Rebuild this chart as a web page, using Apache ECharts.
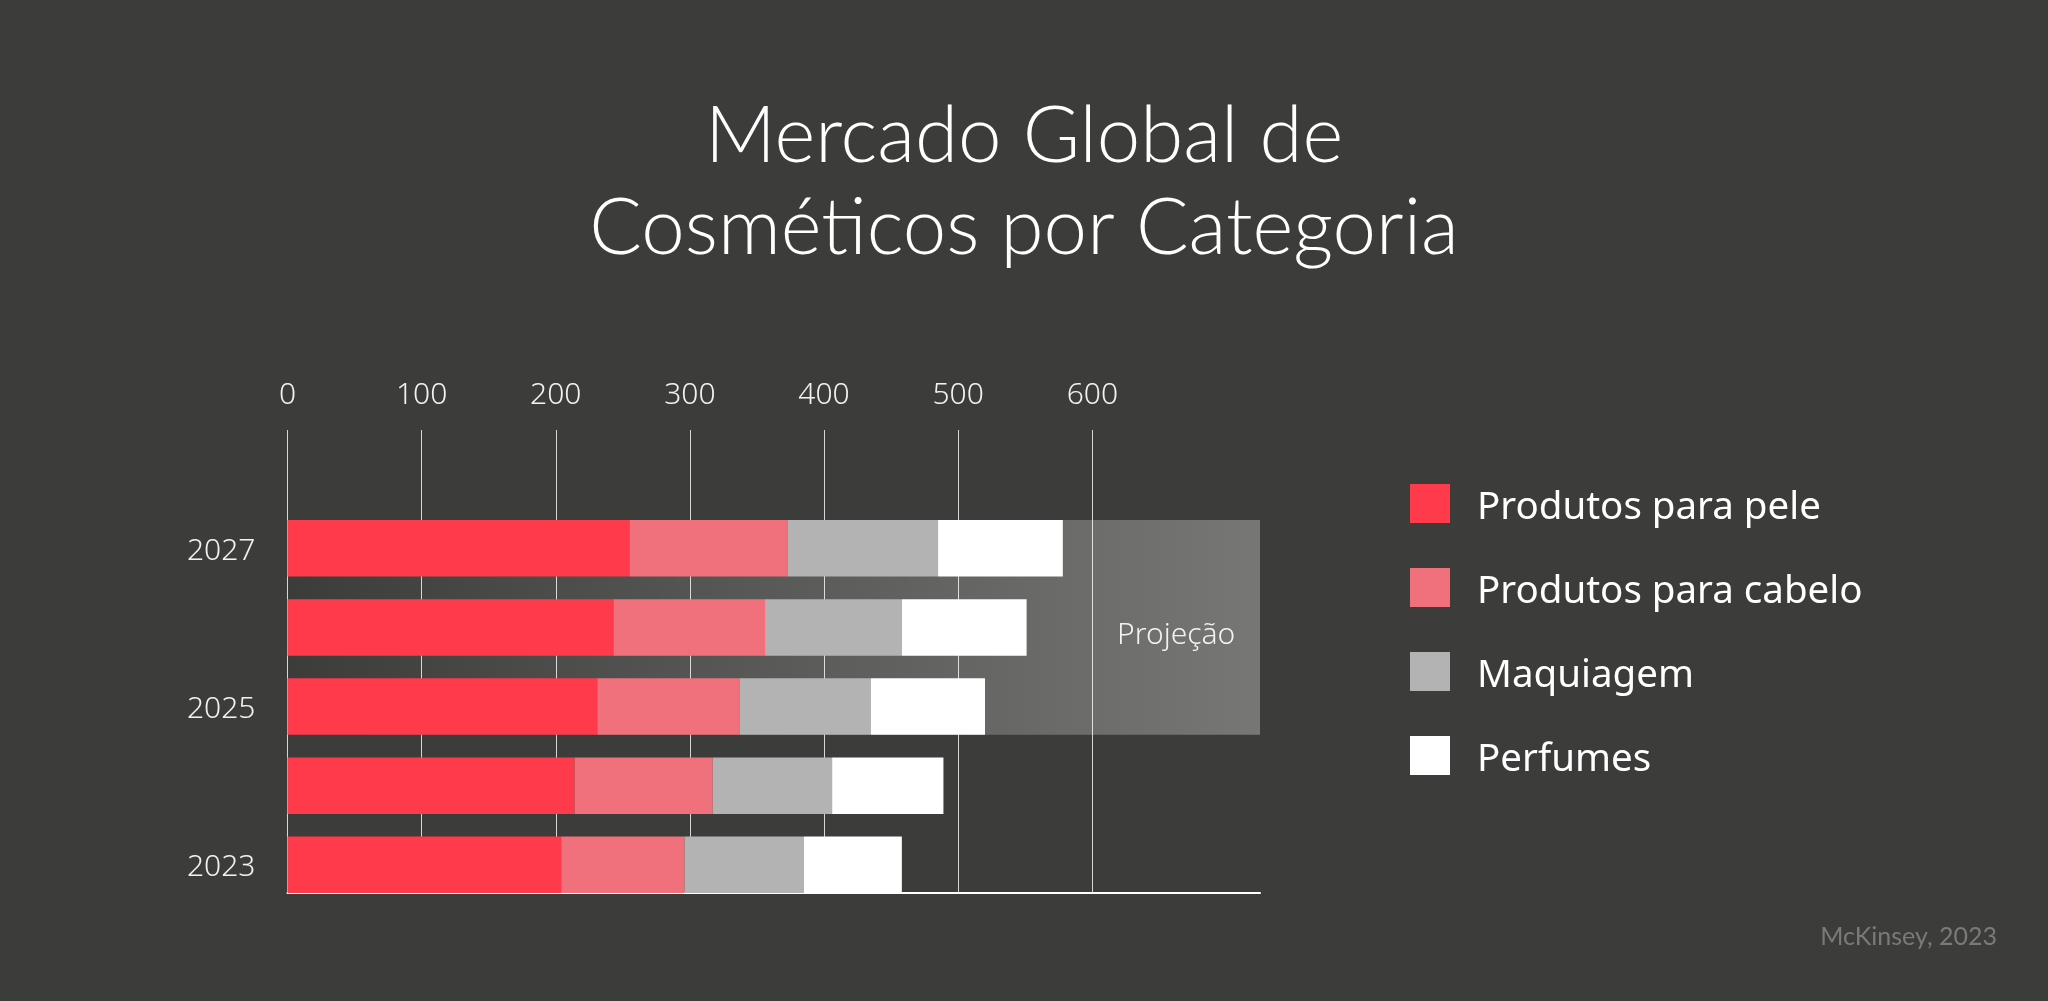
<!DOCTYPE html>
<html>
<head>
<meta charset="utf-8">
<script src="https://cdn.jsdelivr.net/npm/echarts@6/dist/echarts.min.js"></script>
<style>
  html, body { margin: 0; padding: 0; background: #3c3c3a; }
  #chart { width: 2048px; height: 1001px; }
</style>
</head>
<body>
<div id="chart"></div>
<script>
  // dados (bilhões)
  const years = ['2023', '2024', '2025', '2026', '2027']
  const pele = [204, 214, 231, 243, 255]
  const cabelo = [92, 103, 106, 113, 118]
  const maquiagem = [89, 89, 98, 102, 112]
  const perfumes = [73, 83, 85, 93, 93]
  const seriesNames = ['Produtos para pele', 'Produtos para cabelo', 'Maquiagem', 'Perfumes']
  const seriesColors = ['#ff3a4b', '#f0707c', '#b3b3b3', '#ffffff']
  const tickValues = [0, 100, 200, 300, 400, 500, 600]
  const projection = ['2025', '2027'] // faixa de projeção
  const X_MAX = 725
  const BAR_W = 56.5

  const FONT = '"Noto Sans"'
  let chart = echarts.init(document.getElementById('chart'))

  let barSeries = [pele, cabelo, maquiagem, perfumes].map((vals, i) => ({
    name: seriesNames[i],
    type: 'bar',
    stack: 'total',
    xAxisIndex: 0,
    yAxisIndex: 0,
    barWidth: BAR_W,
    z: 3,
    itemStyle: { color: seriesColors[i] },
    data: vals
  }))

  let projSeries = {
    type: 'custom',
    xAxisIndex: 0,
    yAxisIndex: 0,
    z: 1,
    silent: true,
    data: [[0, X_MAX, years.indexOf(projection[0]), years.indexOf(projection[1])]],
    renderItem: (params, api) => {
      let p0 = api.coord([api.value(0), api.value(2)])
      let p1 = api.coord([api.value(1), api.value(3)])
      let mid = api.coord([(tickValues[tickValues.length - 1] + X_MAX) / 2, api.value(2)])
      let top = p1[1] - BAR_W / 2
      let bottom = p0[1] + BAR_W / 2
      return {
        type: 'group',
        children: [{
          type: 'rect',
          shape: { x: p0[0], y: top, width: p1[0] - p0[0], height: bottom - top },
          style: {
            fill: new echarts.graphic.LinearGradient(0, 0, 1, 0, [
              { offset: 0, color: 'rgba(255,255,255,0)' },
              { offset: 1, color: 'rgba(255,255,255,0.3)' }
            ])
          }
        }, {
          type: 'text',
          x: mid[0],
          y: (top + bottom) / 2 + 8,
          style: {
            text: 'Projeção',
            fill: '#f2f2f2',
            font: '300 30px ' + FONT,
            align: 'center',
            verticalAlign: 'middle'
          }
        }]
      }
    }
  }

  let option = {
    backgroundColor: '#3c3c3a',
    animation: false,
    title: {
      text: 'Mercado Global de\nCosméticos por Categoria',
      left: 'center',
      top: 86,
      textStyle: {
        color: '#ffffff',
        fontFamily: 'Lato',
        fontWeight: 300,
        fontSize: 78,
        lineHeight: 92
      }
    },
    legend: {
      orient: 'vertical',
      left: 1410,
      top: 484,
      padding: 0,
      itemWidth: 40,
      itemHeight: 39,
      itemGap: 40.5,
      icon: 'rect',
      data: seriesNames,
      formatter: name => '{n|' + name + '}',
      textStyle: {
        color: '#ffffff',
        padding: [0, 0, 0, 22],
        rich: { n: { color: '#ffffff', fontSize: 38.5, fontFamily: FONT, padding: [9, 0, 0, 0] } }
      }
    },
    grid: [
      { left: 287.5, right: 788, top: 508.7, bottom: 96.6 },
      { left: 287.5, right: 788, top: 430, bottom: 108 }
    ],
    xAxis: [
      { type: 'value', gridIndex: 0, min: 0, max: X_MAX, show: false },
      {
        type: 'value', gridIndex: 1, position: 'top', min: 0, max: X_MAX, interval: 100,
        axisLine: { show: false },
        axisTick: { show: false, customValues: tickValues },
        axisLabel: { customValues: tickValues, color: '#f2f2f2', fontSize: 30, fontWeight: 300, fontFamily: FONT, margin: 20 },
        splitLine: { show: true, lineStyle: { color: '#d6d6d6', width: 1 } }
      },
      {
        type: 'value', gridIndex: 1, position: 'bottom', min: 0, max: X_MAX,
        axisLine: { show: true, lineStyle: { color: '#ffffff', width: 2 } },
        axisTick: { show: false }, axisLabel: { show: false }, splitLine: { show: false }
      }
    ],
    yAxis: [
      {
        type: 'category', gridIndex: 0, data: years,
        axisLine: { show: false }, axisTick: { show: false },
        axisLabel: {
          interval: 1, margin: 32,
          formatter: v => '{y|' + v + '}',
          rich: { y: { color: '#f2f2f2', fontSize: 30, fontWeight: 300, fontFamily: FONT, padding: [6, 0, 0, 0] } }
        }
      },
      { type: 'value', gridIndex: 1, show: false }
    ],
    graphic: [{
      type: 'text',
      right: 51,
      top: 924,
      style: { text: 'McKinsey, 2023', fill: '#7a7a7a', font: '25px Lato' }
    }],
    series: [projSeries].concat(barSeries)
  }
  chart.setOption(option)
</script>
</body>
</html>
